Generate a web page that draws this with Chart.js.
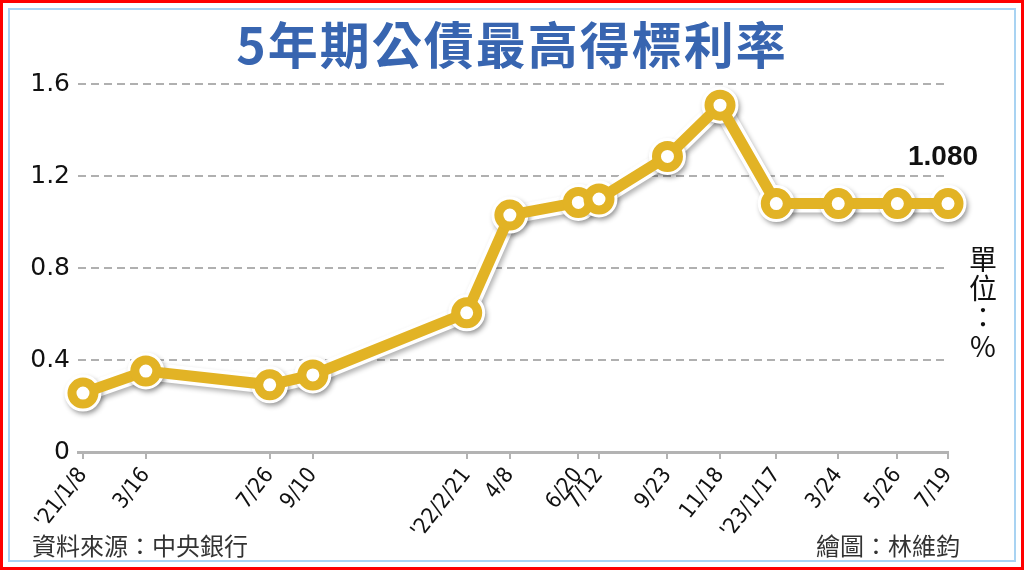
<!DOCTYPE html>
<html>
<head>
<meta charset="utf-8">
<script src="https://cdn.jsdelivr.net/npm/chart.js@4.4.0/dist/chart.umd.min.js"></script>
<style>
  body { margin: 0; background: #fff; }
  #wrap { position: relative; width: 1024px; height: 570px; overflow: hidden; background: #fff; }
  .frame { position: absolute; left: 0; top: 0; width: 1024px; height: 570px; box-sizing: border-box; border: 3px solid #f00; }
  .frame2 { position: absolute; left: 5px; top: 5px; right: 5px; bottom: 5px; border: 2px solid #a9d3f2; }
  canvas { position: absolute; left: 0; top: 0; }
  #title { position: absolute; left: 0; top: 17px; width: 1024px; text-align: center;
    font: bold 50px "Noto Sans CJK TC"; line-height: 50px; letter-spacing: 2px; color: #3865b0; }
  .foot { position: absolute; top: 533px; font: 24px "Noto Sans CJK TC"; line-height: 24px; color: #333; }
  #unit { position: absolute; left: 968px; top: 244px; width: 30px; text-align: center;
    font: 28px "Noto Sans CJK TC"; line-height: 29px; color: #111; }
</style>
</head>
<body>
<div id="wrap">
  <div class="frame"><div class="frame2"></div></div>
  <canvas id="chart" width="1024" height="570"></canvas>
  <div id="title">5年期公債最高得標利率</div>
  <div class="foot" style="left:32px;">資料來源：中央銀行</div>
  <div class="foot" style="right:64px;">繪圖：林維鈞</div>
  <div id="unit">單<br>位<br>：<br>%</div>
</div>
<script>
// auction dates, tick labels and rates (%)
const dates = ["2021-01-08", "2021-03-16", "2021-07-26", "2021-09-10", "2022-02-21", "2022-04-08", "2022-06-20",
  "2022-07-12", "2022-09-23", "2022-11-18", "2023-01-17", "2023-03-24", "2023-05-26", "2023-07-19"];
const labels = ["'21/1/8", "3/16", "7/26", "9/10", "'22/2/21", "4/8", "6/20",
  "7/12", "9/23", "11/18", "'23/1/17", "3/24", "5/26", "7/19"];
const rates = [0.256, 0.352, 0.292, 0.335, 0.605, 1.03, 1.085, 1.1, 1.285, 1.508, 1.08, 1.08, 1.08, 1.08];
const yTicks = [0, 0.4, 0.8, 1.2, 1.6];
const yLabels = ["0", "0.4", "0.8", "1.2", "1.6"];

const gold = "#e2b325";
const t0 = Date.parse(dates[0]);
const days = dates.map((d) => (Date.parse(d) - t0) / 86400000);
const pts = days.map((x, i) => ({ x: x, y: rates[i] }));

const extras = {
  id: "extras",
  beforeDatasetDraw(chart, args) {
    if (args.index === 1) {
      const c = chart.ctx;
      c.save();
      c.shadowColor = "rgba(0,0,0,0.3)";
      c.shadowBlur = 5;
      c.shadowOffsetX = 2;
      c.shadowOffsetY = 3;
    }
  },
  afterDatasetDraw(chart, args) {
    if (args.index === 1) chart.ctx.restore();
  },
  afterDatasetsDraw(chart) {
    const meta = chart.getDatasetMeta(0);
    const p = meta.data[meta.data.length - 1];
    const c = chart.ctx;
    c.save();
    c.font = 'bold 28px "Liberation Sans"';
    c.fillStyle = "#111";
    c.textAlign = "center";
    c.textBaseline = "middle";
    c.fillText(rates[rates.length - 1].toFixed(3), p.x - 5, p.y - 46);
    c.restore();
  },
};

const ctx = document.getElementById("chart");
new Chart(ctx, {
  type: "line",
  data: {
    datasets: [
      {
        data: pts,
        borderColor: gold,
        borderWidth: 11,
        pointRadius: 11,
        pointBorderWidth: 9,
        pointBackgroundColor: "#fff",
        pointBorderColor: gold,
        tension: 0,
        clip: false,
      },
      {
        data: pts,
        borderColor: "#fff",
        borderWidth: 18,
        pointRadius: 15,
        pointBorderWidth: 7,
        pointBackgroundColor: "#fff",
        pointBorderColor: "#fff",
        tension: 0,
        clip: false,
      },
    ],
  },
  options: {
    responsive: false,
    animation: false,
    events: [],
    layout: { padding: { left: 0, right: 76, top: 84, bottom: 0 } },
    plugins: { legend: { display: false }, tooltip: { enabled: false } },
    scales: {
      x: {
        type: "linear",
        min: -5.3,
        max: days[days.length - 1],
        afterBuildTicks: (s) => {
          s.ticks = days.map((v) => ({ value: v }));
        },
        afterFit: (s) => {
          s.height = 118;
        },
        grid: { drawOnChartArea: false, tickLength: 7, color: "#b3b3b3", lineWidth: 2 },
        border: { display: true, color: "#b3b3b3", width: 3 },
        ticks: {
          autoSkip: false,
          minRotation: 52,
          maxRotation: 52,
          padding: 4,
          color: "#111",
          font: { family: "DejaVu Sans Condensed, DejaVu Sans", size: 22 },
          callback: (v, i) => labels[i],
        },
      },
      y: {
        min: 0,
        max: 1.6,
        afterBuildTicks: (s) => {
          s.ticks = yTicks.map((v) => ({ value: v }));
        },
        afterFit: (s) => {
          s.width = 78;
        },
        grid: {
          drawTicks: false,
          tickLength: 0,
          lineWidth: 2,
          color: (c) => (c.tick && c.tick.value === 0 ? "rgba(0,0,0,0)" : "#b0b0b0"),
        },
        border: { display: false, dash: [8, 5] },
        ticks: {
          padding: 8,
          color: "#111",
          font: { family: "DejaVu Sans", size: 25 },
          callback: (v, i) => yLabels[i],
        },
      },
    },
  },
  plugins: [extras],
});
</script>
</body>
</html>
